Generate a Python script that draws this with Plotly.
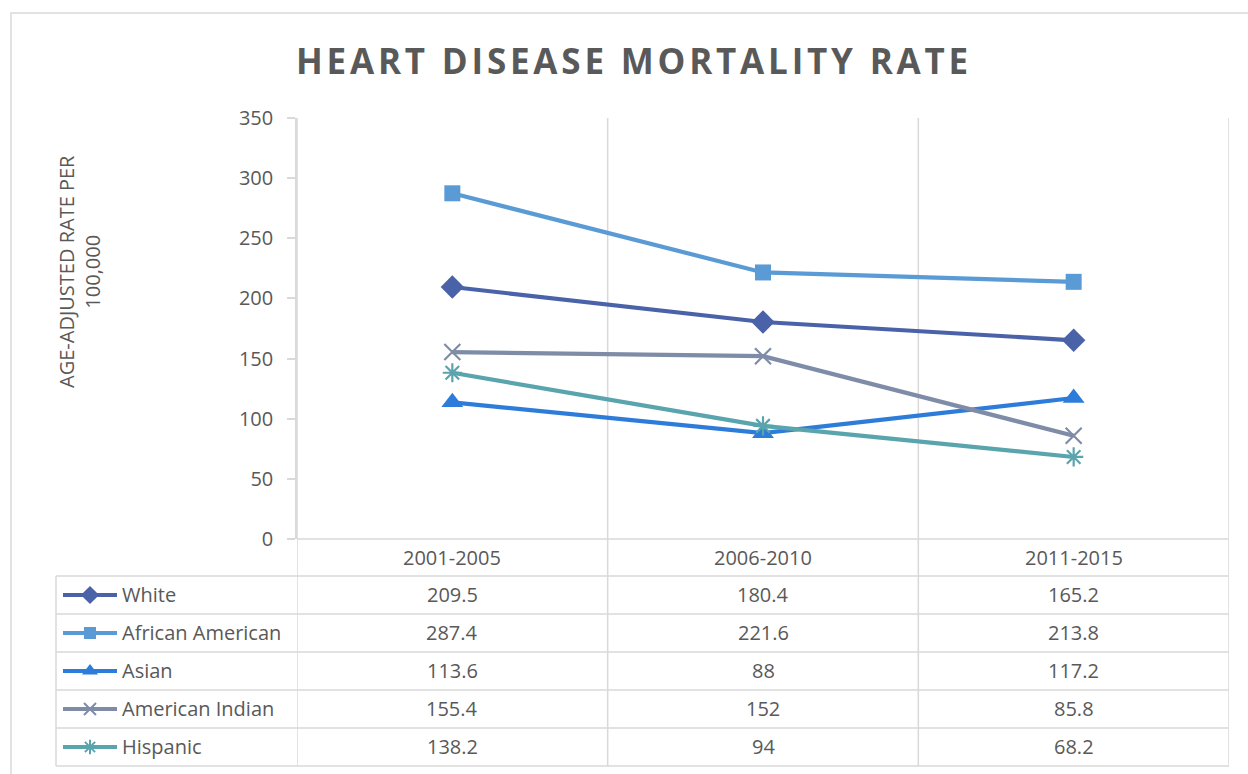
import plotly.graph_objects as go

# ---------------- data ----------------
categories = ["2001-2005", "2006-2010", "2011-2015"]
series_names = ["White", "African American", "Asian", "American Indian", "Hispanic"]
white = [209.5, 180.4, 165.2]
african_american = [287.4, 221.6, 213.8]
asian = [113.6, 88, 117.2]
american_indian = [155.4, 152, 85.8]
hispanic = [138.2, 94, 68.2]
y_ticks = [0, 50, 100, 150, 200, 250, 300, 350]
title_text = "HEART DISEASE MORTALITY RATE"
y_title = "AGE-ADJUSTED RATE PER<br>100,000"

values = [white, african_american, asian, american_indian, hispanic]

# ---------------- styles ----------------
colors = ["#4A62A8", "#5B9BD5", "#2E7CD9", "#7F8CA8", "#5AA4AE"]
symbols = ["diamond", "square", "triangle-up", "x-thin-open", "asterisk-open"]
msizes = [18, 16, 19, 16, 16]
key_sizes = [14, 12, 14, 12, 12]
W, H = 1248, 774
GRID = "#D9D9D9"
TXT = "#595959"
FONT = "Open Sans"
FS = 20

def px(x):
    return x / W

def py(y):
    return 1 - y / H

plot_left, plot_right = 297, 1229
plot_top, plot_bottom = 118, 539
row_lines = [576, 614, 652, 690, 728, 766]
table_left = 56
key_left, key_right = 56, 121

fig = go.Figure()

for name, vals, c, s, ms in zip(series_names, values, colors, symbols, msizes):
    open_sym = s.endswith("open")
    fig.add_trace(go.Scatter(
        x=list(range(len(categories))), y=vals, name=name, mode="lines+markers",
        line=dict(color=c, width=4.2),
        marker=dict(symbol=s, size=ms, color=c,
                    line=dict(color=c, width=2.2 if open_sym else 0)),
        showlegend=False, cliponaxis=False,
    ))

# legend keys inside the data table (small subplot in pixel units)
for i, (name, c, s, ks) in enumerate(zip(series_names, colors, symbols, key_sizes)):
    yc = (row_lines[i] + row_lines[i + 1]) / 2
    open_sym = s.endswith("open")
    fig.add_trace(go.Scatter(
        x=[63, 117], y=[yc, yc], mode="lines", line=dict(color=c, width=4),
        xaxis="x2", yaxis="y2", showlegend=False, hoverinfo="skip"))
    fig.add_trace(go.Scatter(
        x=[90], y=[yc], mode="markers",
        marker=dict(symbol=s, size=ks, color=c,
                    line=dict(color=c, width=2 if open_sym else 0)),
        xaxis="x2", yaxis="y2", showlegend=False, hoverinfo="skip", cliponaxis=False))

shapes = []
# outer border
shapes.append(dict(type="rect", xref="paper", yref="paper", x0=px(11), x1=1.05,
                   y0=-0.05, y1=py(13), line=dict(color=GRID, width=1.5), layer="below"))
# vertical lines at category boundaries (including plot edges)
for xb in [-0.5, 0.5, 1.5, 2.5]:
    shapes.append(dict(type="line", xref="x", yref="paper", x0=xb, x1=xb,
                       y0=py(row_lines[-1]), y1=py(plot_top),
                       line=dict(color=GRID, width=1.5), layer="below"))
# horizontal table lines
shapes.append(dict(type="line", xref="paper", yref="paper", x0=px(plot_left), x1=px(plot_right),
                   y0=py(plot_bottom), y1=py(plot_bottom), line=dict(color=GRID, width=1.5),
                   layer="below"))
for yl in row_lines:
    shapes.append(dict(type="line", xref="paper", yref="paper", x0=px(table_left), x1=px(plot_right),
                       y0=py(yl), y1=py(yl), line=dict(color=GRID, width=1.5), layer="below"))
shapes.append(dict(type="line", xref="paper", yref="paper", x0=px(table_left), x1=px(table_left),
                   y0=py(row_lines[-1]), y1=py(row_lines[0]), line=dict(color=GRID, width=1.5),
                   layer="below"))

annotations = []
for i, (name, vals) in enumerate(zip(series_names, values)):
    yc = (row_lines[i] + row_lines[i + 1]) / 2
    annotations.append(dict(text=name, xref="paper", yref="paper", x=px(120), y=py(yc - 1),
                            xanchor="left", yanchor="middle", showarrow=False,
                            font=dict(family=FONT, size=FS, color=TXT)))
    for j, v in enumerate(vals):
        annotations.append(dict(text=f"{v:g}", xref="x", yref="paper", x=j, y=py(yc - 1),
                                xanchor="center", yanchor="middle", showarrow=False,
                                font=dict(family=FONT, size=FS, color=TXT)))
# header row
for j, cat in enumerate(categories):
    annotations.append(dict(text=cat, xref="x", yref="paper", x=j, y=py(557),
                            xanchor="center", yanchor="middle", showarrow=False,
                            font=dict(family=FONT, size=FS, color=TXT)))
# y axis title
annotations.append(dict(text=y_title, xref="paper", yref="paper", x=px(79), y=py(272),
                        xanchor="center", yanchor="middle", textangle=-90, showarrow=False,
                        font=dict(family=FONT, size=20, color=TXT)))
# title
annotations.append(dict(text='<span style="letter-spacing:3.8px"><b>' + title_text + '</b></span>',
                        xref="paper", yref="paper", x=px(634), y=py(60),
                        xanchor="center", yanchor="middle", showarrow=False,
                        font=dict(family=FONT, size=35, color=TXT)))

fig.update_layout(
    width=W, height=H, margin=dict(l=0, r=0, t=0, b=0, autoexpand=False),
    paper_bgcolor="white", plot_bgcolor="rgba(0,0,0,0)",
    xaxis=dict(domain=[px(plot_left), px(plot_right)], range=[-0.5, 2.5],
               showgrid=False, zeroline=False, showline=False, showticklabels=False,
               fixedrange=True),
    yaxis=dict(domain=[py(plot_bottom), py(plot_top)], range=[0, 350],
               tickvals=y_ticks, showgrid=False, zeroline=False,
               showline=True, linecolor=GRID, linewidth=1.5,
               ticks="outside", ticklen=8, tickcolor=GRID, tickwidth=1.5,
               ticklabelstandoff=10, automargin=False,
               tickfont=dict(family=FONT, size=FS, color=TXT), fixedrange=True),
    xaxis2=dict(domain=[px(key_left), px(key_right)], range=[key_left, key_right],
                visible=False, fixedrange=True, anchor="y2"),
    yaxis2=dict(domain=[py(row_lines[-1]), py(row_lines[0])], range=[row_lines[-1], row_lines[0]],
                visible=False, fixedrange=True, anchor="x2"),
    shapes=shapes, annotations=annotations,
)

fig.write_html("out.html", config={"displayModeBar": False},
               post_script="document.body.style.margin='0';")
